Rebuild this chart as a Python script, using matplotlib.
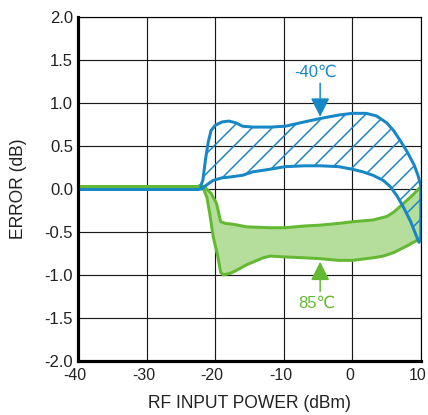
from matplotlib import pyplot as plt
from matplotlib.transforms import ScaledTranslation

# curve data (x = RF input power dBm, y = error dB)
flat_x = [-40, -22.3]
flat_green_y = [0.04, 0.04]
flat_blue_y = [0.0, 0.0]

# -40C band : upper edge left->right, then lower edge right->left
blue_x = [-22.3, -21.8, -21.4, -21.0, -20.6, -20.0, -19.0, -18.0, -17.0, -16.0, -14.5, -12.0, -9.8, -7.0,
          -4.7, -2.0, 0.0, 2.0, 3.5, 5.0, 6.0, 7.0, 8.0, 9.0, 9.6, 10.0,
          10.0, 9.7, 8.5, 7.5, 6.5, 5.5, 4.5, 3.0, 1.5, 0.0, -2.0, -4.7, -7.0, -9.8, -12.0,
          -14.5, -16.0, -17.8, -19.0, -20.3, -21.2, -22.0, -22.3]
blue_y = [0.0, 0.1, 0.35, 0.55, 0.68, 0.74, 0.78, 0.79, 0.77, 0.73, 0.72, 0.72, 0.73, 0.78,
          0.82, 0.86, 0.88, 0.88, 0.85, 0.77, 0.68, 0.56, 0.43, 0.28, 0.15, 0.03,
          -0.58, -0.62, -0.38, -0.22, -0.08, 0.03, 0.10, 0.16, 0.20, 0.23, 0.26, 0.27, 0.27, 0.26, 0.23,
          0.20, 0.16, 0.14, 0.13, 0.10, 0.05, 0.0, 0.0]

# 85C band
green_x = [-22.3, -21.5, -20.6, -19.8, -19.2, -18.5, -17.4, -15.4, -12.0, -9.8, -7.0, -4.7, -2.0, 0.1,
           3.0, 5.0, 6.0, 7.0, 8.8, 10.0,
           10.0, 9.8, 8.0, 6.0, 4.5, 3.0, 0.0, -2.0, -4.7, -7.0, -9.8, -12.0, -13.0, -15.4, -17.0,
           -17.8, -18.8, -19.2, -19.6, -20.3, -20.8, -21.2, -21.8, -22.3]
green_y = [0.04, 0.02, -0.05, -0.17, -0.38, -0.40, -0.41, -0.44, -0.45, -0.45, -0.43, -0.42, -0.40, -0.38,
           -0.36, -0.32, -0.27, -0.20, -0.07, 0.03,
           -0.56, -0.58, -0.66, -0.74, -0.78, -0.80, -0.83, -0.83, -0.81, -0.80, -0.79, -0.78, -0.80, -0.88, -0.95,
           -0.98, -1.0, -0.97, -0.79, -0.55, -0.28, -0.10, 0.02, 0.04]

x_ticks = [-40, -30, -20, -10, 0, 10]
x_tick_labels = ['-40', '-30', '-20', '-10', '0', '10']
y_ticks = [-2.0, -1.5, -1.0, -0.5, 0.0, 0.5, 1.0, 1.5, 2.0]
y_tick_labels = ['-2.0', '-1.5', '-1.0', '-0.5', '0.0', '0.5', '1.0', '1.5', '2.0']

blue = '#1787c6'
green = '#64b932'
green_fill = '#b5dd9b'

plt.rcParams['font.family'] = ['Liberation Sans', 'DejaVu Sans']
plt.rcParams['hatch.linewidth'] = 0.9

fig = plt.figure(figsize=(428 / 120, 415 / 120), dpi=120)
ax = fig.add_axes([0.1822, 0.1301, 0.8014, 0.8289])

ax.set_xlim(-40, 10)
ax.set_ylim(-2, 2)
ax.set_xticks(x_ticks)
ax.set_xticklabels(x_tick_labels)
ax.set_yticks(y_ticks)
ax.set_yticklabels(y_tick_labels)
ax.tick_params(length=0, labelsize=10, colors='#222222')
ax.tick_params(axis='x', pad=4, labelsize=9.5)
ax.tick_params(axis='y', pad=3)
ax.grid(True, color='#1a1a1a', linewidth=0.7)
ax.set_axisbelow(True)

# x tick labels sit a little left of their ticks in the original
for lbl in ax.get_xticklabels():
    lbl.set_transform(lbl.get_transform() + ScaledTranslation(-3 / 120, 0, fig.dpi_scale_trans))

for side in ['top', 'right']:
    ax.spines[side].set_linewidth(0.7)
for side in ['left', 'bottom']:
    ax.spines[side].set_linewidth(1.9)

# flat part
ax.plot(flat_x, flat_green_y, color=green, linewidth=1.8, solid_capstyle='butt')
ax.plot(flat_x, flat_blue_y, color=blue, linewidth=1.8, solid_capstyle='butt')

ax.fill(green_x, green_y, facecolor=green_fill, edgecolor=green, linewidth=1.8, joinstyle='round')
ax.fill(blue_x, blue_y, facecolor='none', edgecolor=blue, hatch='//', linewidth=1.8, joinstyle='round')

# labels with arrows
ax.annotate('', xy=(-4.7, 0.84), xytext=(-4.7, 1.23),
            arrowprops=dict(arrowstyle='-|>,head_length=0.8,head_width=0.4', color=blue, lw=0.9,
                            shrinkA=0, shrinkB=0, mutation_scale=12))
ax.text(-5.3, 1.36, '-40℃', color=blue, fontsize=10, ha='center', va='center')

ax.annotate('', xy=(-4.7, -0.845), xytext=(-4.7, -1.19),
            arrowprops=dict(arrowstyle='-|>,head_length=0.8,head_width=0.4', color=green, lw=0.9,
                            shrinkA=0, shrinkB=0, mutation_scale=12))
ax.text(-5.2, -1.33, '85℃', color=green, fontsize=10, ha='center', va='center')

ax.set_xlabel('RF INPUT POWER (dBm)', fontsize=10.5, color='#222222')
ax.set_ylabel('ERROR (dB)', fontsize=10.5, color='#222222')
ax.xaxis.set_label_coords(0.5, -0.1)
ax.yaxis.set_label_coords(-0.15, 0.5)

fig.savefig('out.png', dpi=120)
